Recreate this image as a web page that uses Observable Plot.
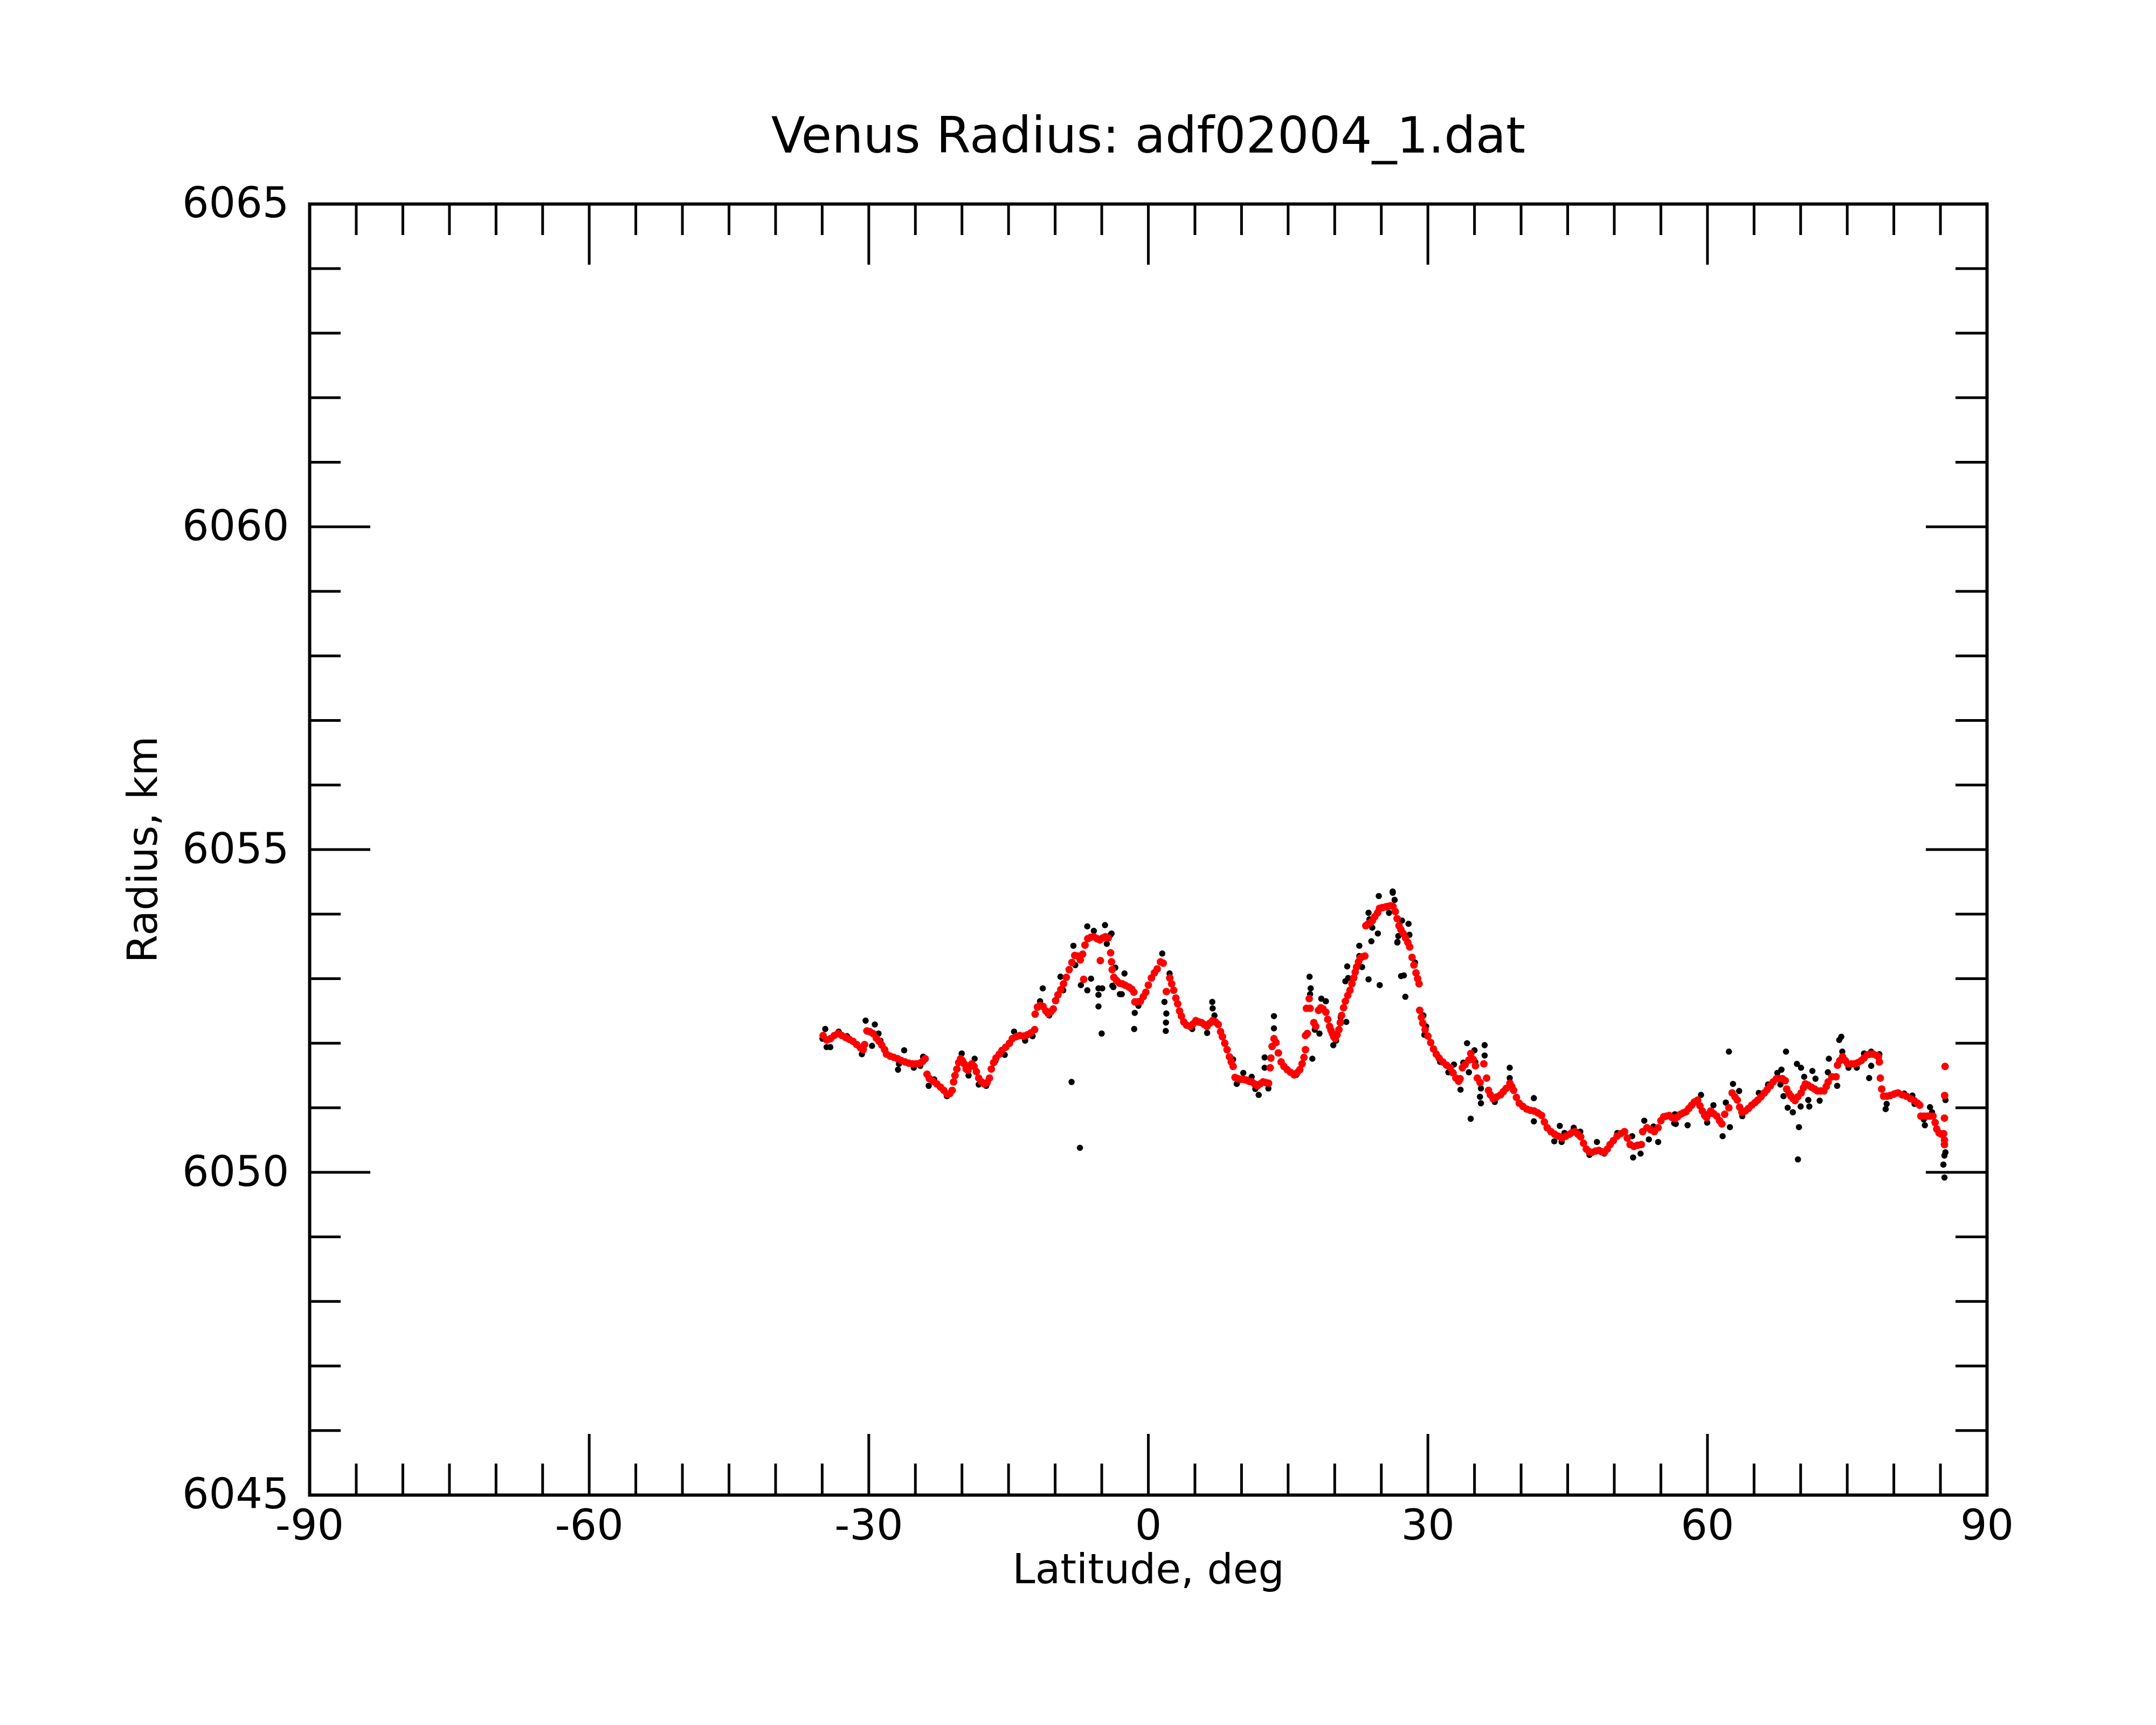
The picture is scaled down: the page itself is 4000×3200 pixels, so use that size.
<!DOCTYPE html>
<html>
<head>
<meta charset="utf-8">
<script src="https://cdn.jsdelivr.net/npm/d3@7"></script>
<script src="https://cdn.jsdelivr.net/npm/@observablehq/plot@0.6"></script>
<style>
  body { margin: 0; background: #ffffff; }
  #chart svg { display: block; }
</style>
</head>
<body>
<div id="chart"></div>
<script>
// ---------- text ----------
const titleText = "Venus Radius: adf02004_1.dat";
const xLabel = "Latitude, deg";
const yLabel = "Radius, km";

// ---------- axes ----------
const xDomain = [-90, 90];
const yDomain = [6045, 6065];
const xMajorTicks = [-90, -60, -30, 0, 30, 60, 90];
const xMinorTicks = [-85, -80, -75, -70, -65, -55, -50, -45, -40, -35, -25, -20, -15, -10, -5,
                     5, 10, 15, 20, 25, 35, 40, 45, 50, 55, 65, 70, 75, 80, 85];
const yMajorTicks = [6045, 6050, 6055, 6060, 6065];
const yMinorTicks = [6046, 6047, 6048, 6049, 6051, 6052, 6053, 6054, 6056, 6057, 6058, 6059,
                     6061, 6062, 6063, 6064];

// ---------- data: raw radius samples (black) [latitude, radius] ----------
const rawSamples = [
  [-34.97,6052.07],[-34.67,6052.22],[-34.52,6051.94],[-34.13,6051.94],[-33.23,6052.18],[-32.34,6052.11],
  [-30.74,6051.83],[-30.34,6052.35],[-29.35,6052.29],[-29.65,6051.96],[-28.95,6052.15],[-28.75,6052.04],
  [-26.86,6051.59],[-26.76,6051.68],[-26.20,6051.89],[-25.17,6051.62],[-24.47,6051.65],[-24.17,6051.79],
  [-23.57,6051.34],[-22.98,6051.44],[-21.62,6051.18],[-20.03,6051.84],[-19.29,6051.50],[-18.64,6051.76],
  [-18.20,6051.36],[-17.40,6051.34],[-16.40,6051.73],[-15.41,6051.82],[-14.41,6052.18],[-13.22,6052.04],
  [-12.42,6052.11],[-11.33,6052.85],[-11.62,6052.65],[-10.63,6052.43],[-9.43,6053.03],[-9.13,6052.82],
  [-8.24,6051.40],[-8.04,6053.51],[-7.84,6053.21],[-7.34,6050.38],[-7.24,6052.90],[-6.55,6052.82],
  [-6.55,6053.81],[-5.85,6053.74],[-5.35,6052.85],[-5.35,6052.75],[-5.35,6052.57],[-5.01,6052.15],
  [-4.95,6052.85],[-4.65,6053.83],[-4.06,6053.68],[-4.46,6053.54],[-3.86,6052.89],[-3.06,6052.76],
  [-6.15,6053.00],[-3.95,6053.70],[-3.55,6053.17],[-3.75,6052.87],[-2.56,6053.08],[-2.85,6052.76],
  [-1.46,6052.47],[-1.52,6052.22],[-1.06,6052.58],[1.49,6053.39],[1.73,6052.64],[1.93,6052.46],
  [1.89,6052.32],[1.87,6052.19],[2.28,6053.08],[4.71,6052.22],[6.31,6052.16],[6.86,6052.64],
  [6.90,6052.54],[7.10,6052.43],[9.09,6051.75],[9.49,6051.37],[10.19,6051.54],[11.09,6051.48],
  [11.48,6051.29],[11.84,6051.20],[12.48,6051.78],[12.48,6051.62],[12.88,6051.30],[13.48,6052.42],
  [13.48,6052.23],[15.87,6051.51],[17.30,6053.03],[17.42,6052.85],[17.36,6052.76],[17.60,6051.76],
  [17.86,6052.21],[18.36,6052.15],[18.56,6052.69],[19.05,6052.65],[19.85,6051.97],[20.15,6052.04],
  [20.65,6052.40],[21.24,6052.33],[21.14,6052.96],[21.34,6053.19],[21.44,6053.01],[22.64,6053.51],
  [22.64,6053.35],[22.94,6053.18],[23.63,6052.99],[24.83,6052.90],[23.63,6054.02],[23.73,6053.92],
  [24.03,6053.79],[24.63,6053.70],[23.93,6053.58],[24.73,6054.28],[26.22,6054.35],[25.83,6054.02],
  [26.72,6053.56],[27.12,6053.04],[26.23,6054.33],[26.43,6054.22],[27.22,6053.90],[27.92,6053.85],
  [26.73,6053.57],[26.83,6053.66],[28.02,6053.68],[27.42,6053.05],[27.58,6052.72],[28.62,6053.25],
  [29.52,6052.43],[29.81,6052.26],[29.62,6052.13],[31.31,6051.71],[32.80,6051.67],[32.20,6051.55],
  [33.50,6051.28],[34.20,6052.00],[35.00,6051.89],[33.80,6051.70],[34.59,6050.83],[34.40,6051.55],
  [35.09,6051.71],[36.09,6051.97],[36.09,6051.81],[35.69,6051.30],[35.69,6051.07],[35.59,6051.17],
  [37.18,6051.09],[38.78,6051.62],[38.78,6051.46],[41.37,6051.15],[41.37,6050.79],[41.96,6050.91],
  [43.56,6050.48],[44.15,6050.72],[44.35,6050.47],[44.65,6050.61],[45.65,6050.69],[46.35,6050.63],
  [47.34,6050.27],[48.14,6050.47],[48.93,6050.29],[50.33,6050.61],[51.92,6050.56],[52.02,6050.23],
  [52.82,6050.29],[53.22,6050.80],[53.71,6050.51],[54.21,6050.71],[54.71,6050.47],[56.50,6050.90],
  [56.60,6050.75],[56.43,6050.76],[57.87,6050.73],[59.31,6051.20],[59.97,6050.77],[60.64,6051.04],
  [61.63,6050.56],[62.30,6051.87],[61.97,6051.08],[62.41,6050.70],[62.74,6051.37],[63.40,6051.26],
  [63.74,6050.87],[65.51,6051.23],[66.50,6051.36],[67.50,6051.54],[67.83,6051.36],[67.94,6051.59],
  [68.43,6051.87],[69.60,6051.68],[70.04,6051.62],[68.16,6051.18],[68.61,6051.00],[69.16,6050.93],
  [69.82,6050.70],[69.71,6050.20],[70.00,6051.02],[70.38,6051.48],[70.82,6051.12],[70.93,6051.02],
  [71.26,6051.57],[71.59,6051.45],[72.04,6051.11],[72.92,6051.55],[73.03,6051.76],[73.92,6051.34],
  [74.14,6052.05],[74.36,6052.10],[74.47,6051.87],[75.14,6051.62],[76.02,6051.62],[76.80,6051.84],
  [77.57,6051.87],[78.45,6051.83],[77.35,6051.46],[77.57,6051.65],[79.12,6050.98],[79.23,6051.06],
  [80.23,6051.23],[81.11,6051.22],[81.99,6051.19],[82.22,6051.06],[83.88,6051.01],[83.33,6050.73],
  [83.21,6050.82],[84.10,6050.93],[85.54,6051.12],[85.54,6050.31],[85.43,6050.26],[85.32,6050.12],
  [85.43,6049.92]
];

// ---------- data: smoothed radius (red) [latitude, radius] ----------
const smoothSamples = [
  [-34.9,6052.12],[-34.5,6052.05],[-34.1,6052.07],[-33.7,6052.12],[-33.3,6052.15],[-32.9,6052.12],[-32.5,6052.09],
  [-32.1,6052.06],[-31.7,6052.03],[-31.3,6051.98],[-30.9,6051.93],[-30.6,6051.90],[-30.45,6051.98],[-30.2,6052.19],
  [-29.9,6052.18],[-29.55,6052.15],[-29.2,6052.08],[-28.9,6052.03],[-28.6,6051.97],[-28.3,6051.90],[-28.1,6051.83],
  [-27.7,6051.80],[-27.3,6051.78],[-26.9,6051.76],[-26.5,6051.73],[-26.1,6051.71],[-25.7,6051.69],[-25.3,6051.68],
  [-24.9,6051.68],[-24.5,6051.69],[-24.2,6051.72],[-23.95,6051.76],[-23.75,6051.52],[-23.5,6051.45],[-23.1,6051.41],
  [-22.7,6051.37],[-22.3,6051.32],[-21.95,6051.27],[-21.6,6051.21],[-21.3,6051.22],[-21.05,6051.27],[-20.9,6051.40],
  [-20.75,6051.50],[-20.55,6051.60],[-20.35,6051.70],[-20.15,6051.76],[-19.95,6051.73],[-19.75,6051.68],[-19.55,6051.60],
  [-19.35,6051.58],[-19.15,6051.65],[-18.95,6051.68],[-18.7,6051.64],[-18.45,6051.56],[-18.2,6051.46],[-17.9,6051.40],
  [-17.6,6051.37],[-17.3,6051.39],[-17.05,6051.46],[-16.85,6051.60],[-16.6,6051.70],[-16.35,6051.77],[-16.0,6051.83],
  [-15.7,6051.89],[-15.3,6051.94],[-14.9,6052.00],[-14.6,6052.07],[-14.2,6052.10],[-13.8,6052.12],[-13.4,6052.11],
  [-13.0,6052.13],[-12.6,6052.16],[-12.2,6052.21],[-12.15,6052.45],[-11.9,6052.56],[-11.6,6052.58],[-11.3,6052.57],
  [-11.0,6052.50],[-10.75,6052.46],[-10.45,6052.49],[-10.2,6052.53],[-9.95,6052.66],[-9.7,6052.75],[-9.4,6052.83],
  [-9.1,6052.92],[-8.8,6053.02],[-8.5,6053.14],[-8.2,6053.25],[-7.9,6053.36],[-7.6,6053.35],[-7.3,6053.29],
  [-7.05,6053.38],[-6.8,6053.52],[-6.5,6053.62],[-6.2,6053.64],[-5.85,6053.65],[-5.5,6053.62],[-5.2,6053.60],
  [-4.9,6053.63],[-4.6,6053.65],[-4.3,6053.63],[-4.05,6053.40],[-3.95,6053.26],[-3.88,6053.14],[-5.15,6053.28],
  [-6.94,6052.99],[-3.7,6053.02],[-3.4,6052.97],[-3.1,6052.93],[-2.8,6052.92],[-2.5,6052.90],[-2.1,6052.87],
  [-1.8,6052.84],[-1.55,6052.79],[-1.45,6052.64],[-1.15,6052.64],[-0.85,6052.65],[-0.55,6052.72],[-0.27,6052.79],
  [0.0,6052.90],[0.33,6053.01],[0.65,6053.09],[0.95,6053.15],[1.3,6053.26],[1.6,6053.24],[1.93,6052.80],
  [2.3,6053.01],[2.5,6052.92],[2.72,6052.82],[2.95,6052.70],[3.15,6052.61],[3.35,6052.50],[3.55,6052.42],
  [3.8,6052.33],[4.1,6052.28],[4.5,6052.26],[4.8,6052.30],[5.1,6052.35],[5.4,6052.33],[5.7,6052.32],
  [6.0,6052.29],[6.3,6052.26],[6.6,6052.31],[6.9,6052.35],[7.2,6052.33],[7.5,6052.29],[7.75,6052.18],
  [7.95,6052.10],[8.2,6052.00],[8.45,6051.90],[8.7,6051.79],[8.9,6051.71],[9.1,6051.64],[9.3,6051.47],
  [9.6,6051.45],[9.9,6051.44],[10.2,6051.44],[10.5,6051.43],[10.8,6051.41],[11.1,6051.40],[11.4,6051.37],
  [11.7,6051.34],[12.0,6051.37],[12.3,6051.40],[12.6,6051.39],[12.9,6051.38],[13.08,6051.62],[13.15,6051.77],
  [13.28,6051.95],[13.48,6052.07],[13.7,6052.01],[13.95,6051.85],[14.25,6051.71],[14.55,6051.64],[14.9,6051.59],
  [15.25,6051.55],[15.65,6051.51],[15.95,6051.54],[16.25,6051.59],[16.5,6051.68],[16.7,6051.78],[16.86,6051.90],
  [16.86,6052.12],[17.06,6052.15],[16.96,6052.54],[17.26,6052.69],[17.36,6052.54],[17.76,6052.32],[17.96,6052.26],
  [18.26,6052.51],[18.5,6052.55],[18.75,6052.53],[19.05,6052.48],[19.25,6052.37],[19.45,6052.26],[19.6,6052.20],
  [19.75,6052.15],[19.9,6052.10],[20.05,6052.07],[20.25,6052.13],[20.45,6052.21],[20.6,6052.32],[20.74,6052.43],
  [20.95,6052.55],[21.14,6052.65],[21.4,6052.74],[21.64,6052.82],[21.85,6052.92],[22.04,6053.01],[22.2,6053.10],
  [22.34,6053.18],[22.55,6053.26],[22.74,6053.32],[23.0,6053.34],[23.24,6053.35],[23.34,6053.82],[23.6,6053.85],
  [23.85,6053.87],[24.05,6053.90],[24.3,6053.96],[24.6,6054.02],[24.8,6054.09],[25.1,6054.10],[25.43,6054.11],
  [25.7,6054.12],[26.0,6054.13],[26.25,6054.12],[26.5,6054.04],[26.7,6053.93],[26.9,6053.82],[27.1,6053.76],
  [27.35,6053.70],[27.6,6053.63],[27.85,6053.56],[28.05,6053.49],[28.3,6053.33],[28.5,6053.21],[28.72,6053.09],
  [28.9,6053.00],[29.05,6052.92],[29.12,6052.51],[29.3,6052.40],[29.45,6052.31],[29.7,6052.21],[30.0,6052.11],
  [30.3,6052.01],[30.6,6051.91],[30.9,6051.83],[31.2,6051.77],[31.6,6051.71],[32.0,6051.66],[32.4,6051.62],
  [32.7,6051.54],[33.0,6051.46],[33.3,6051.41],[33.45,6051.45],[33.7,6051.62],[34.0,6051.67],[34.4,6051.74],
  [34.6,6051.84],[34.85,6051.75],[35.1,6051.65],[35.3,6051.46],[35.6,6051.39],[36.0,6051.68],[36.3,6051.46],
  [36.5,6051.27],[36.7,6051.20],[37.0,6051.14],[37.4,6051.17],[37.8,6051.20],[38.1,6051.25],[38.4,6051.30],
  [38.8,6051.38],[39.0,6051.33],[39.2,6051.27],[39.5,6051.16],[39.8,6051.07],[40.2,6051.02],[40.6,6050.98],
  [41.0,6050.96],[41.4,6050.95],[41.8,6050.92],[42.2,6050.88],[42.5,6050.78],[42.8,6050.69],[43.2,6050.63],
  [43.6,6050.59],[44.0,6050.56],[44.4,6050.53],[44.8,6050.56],[45.2,6050.59],[45.5,6050.62],[45.8,6050.63],
  [46.1,6050.59],[46.4,6050.55],[46.7,6050.45],[47.0,6050.36],[47.3,6050.32],[47.6,6050.31],[48.0,6050.33],
  [48.35,6050.34],[48.65,6050.32],[48.95,6050.31],[49.25,6050.36],[49.55,6050.43],[49.9,6050.49],[50.3,6050.56],
  [50.7,6050.60],[51.1,6050.63],[51.4,6050.53],[51.7,6050.43],[52.1,6050.40],[52.5,6050.42],[52.9,6050.43],
  [53.05,6050.63],[53.5,6050.69],[53.9,6050.66],[54.3,6050.63],[54.7,6050.69],[55.0,6050.80],[55.3,6050.86],
  [55.6,6050.87],[55.9,6050.88],[56.2,6050.85],[56.5,6050.83],[56.8,6050.86],[57.1,6050.90],[57.4,6050.92],
  [57.7,6050.94],[58.0,6050.99],[58.3,6051.04],[58.6,6051.09],[58.95,6051.12],[59.2,6051.03],[59.45,6050.95],
  [59.7,6050.88],[59.9,6050.85],[60.1,6050.90],[60.35,6050.95],[60.65,6050.91],[61.0,6050.87],[61.3,6050.80],
  [61.55,6050.75],[61.85,6050.90],[62.3,6051.00],[62.65,6051.23],[62.95,6051.17],[63.2,6051.12],[63.45,6051.01],
  [63.7,6050.93],[64.05,6050.95],[64.4,6050.99],[64.75,6051.04],[65.1,6051.08],[65.4,6051.12],[65.75,6051.17],
  [66.1,6051.23],[66.4,6051.28],[66.75,6051.34],[67.05,6051.40],[67.4,6051.45],[67.75,6051.45],[68.05,6051.45],
  [68.35,6051.42],[68.5,6051.29],[68.75,6051.22],[68.95,6051.18],[69.2,6051.14],[69.4,6051.11],[69.7,6051.17],
  [70.05,6051.23],[70.3,6051.31],[70.5,6051.37],[70.8,6051.35],[71.15,6051.32],[71.5,6051.29],[71.8,6051.26],
  [72.15,6051.26],[72.5,6051.26],[72.75,6051.33],[72.95,6051.40],[73.35,6051.48],[73.8,6051.48],[73.95,6051.66],
  [74.2,6051.73],[74.5,6051.79],[74.8,6051.73],[75.05,6051.68],[75.45,6051.68],[75.8,6051.68],[76.15,6051.70],
  [76.5,6051.73],[76.8,6051.77],[77.15,6051.82],[77.5,6051.83],[77.8,6051.83],[78.15,6051.81],[78.35,6051.79],
  [78.45,6051.71],[78.55,6051.46],[78.7,6051.29],[78.9,6051.18],[79.25,6051.18],[79.6,6051.19],[80.0,6051.21],
  [80.45,6051.23],[80.9,6051.20],[81.35,6051.18],[81.8,6051.14],[82.2,6051.11],[82.55,6051.07],[82.78,6051.04],
  [82.9,6050.87],[83.25,6050.87],[83.6,6050.87],[83.9,6050.87],[84.2,6050.87],[84.43,6050.77],[84.6,6050.67],
  [84.85,6050.61],[85.1,6050.59],[85.35,6050.60],[85.43,6050.50],[85.43,6050.43],[85.43,6050.84],[85.45,6051.19],
  [85.5,6051.64]
];

// ---------- layout ----------
const W = 4000, H = 3200;
const M = {left: 574, right: 314, top: 378, bottom: 427};
const frameW = W - M.left - M.right;
const frameH = H - M.top - M.bottom;
const FONT = "DejaVu Sans";
const majorLen = 113, minorLen = 58, tickW = 5;

const chart = Plot.plot({
  width: W,
  height: H,
  marginLeft: M.left,
  marginRight: M.right,
  marginTop: M.top,
  marginBottom: M.bottom,
  style: {background: "#ffffff", fontFamily: FONT, color: "#000"},
  x: {domain: xDomain, axis: null},
  y: {domain: yDomain, axis: null},
  marks: [
    // data
    Plot.dot(rawSamples, {x: d => d[0], y: d => d[1], r: 5.8, fill: "#000000", stroke: "none"}),
    Plot.dot(smoothSamples, {x: d => d[0], y: d => d[1], r: 7, fill: "#ff0000", stroke: "none"}),
    // x ticks bottom and top
    Plot.ruleX(xMajorTicks, {x: d => d, insetTop: frameH - majorLen, stroke: "#000", strokeWidth: tickW}),
    Plot.ruleX(xMinorTicks, {x: d => d, insetTop: frameH - minorLen, stroke: "#000", strokeWidth: tickW}),
    Plot.ruleX(xMajorTicks, {x: d => d, insetBottom: frameH - majorLen, stroke: "#000", strokeWidth: tickW}),
    Plot.ruleX(xMinorTicks, {x: d => d, insetBottom: frameH - minorLen, stroke: "#000", strokeWidth: tickW}),
    // y ticks left and right
    Plot.ruleY(yMajorTicks, {y: d => d, insetRight: frameW - majorLen, stroke: "#000", strokeWidth: tickW}),
    Plot.ruleY(yMinorTicks, {y: d => d, insetRight: frameW - minorLen, stroke: "#000", strokeWidth: tickW}),
    Plot.ruleY(yMajorTicks, {y: d => d, insetLeft: frameW - majorLen, stroke: "#000", strokeWidth: tickW}),
    Plot.ruleY(yMinorTicks, {y: d => d, insetLeft: frameW - minorLen, stroke: "#000", strokeWidth: tickW}),
    Plot.frame({stroke: "#000", strokeWidth: 6}),
    // tick labels
    Plot.text(xMajorTicks, {x: d => d, text: d => String(d), frameAnchor: "bottom", lineAnchor: "top",
      dy: 27, fontSize: 78, fill: "#000", fontFamily: FONT}),
    Plot.text(yMajorTicks, {y: d => d, text: d => String(d), frameAnchor: "left", textAnchor: "end",
      lineAnchor: "middle", dx: -38, fontSize: 78, fill: "#000", fontFamily: FONT}),
    // axis labels
    Plot.text([xLabel], {text: d => d, frameAnchor: "bottom", textAnchor: "middle", lineAnchor: "top", dy: 110,
      fontSize: 76, fill: "#000", fontFamily: FONT}),
    Plot.text([yLabel], {text: d => d, frameAnchor: "left", textAnchor: "middle", rotate: -90,
      lineAnchor: "middle", dx: -308, fontSize: 76, fill: "#000", fontFamily: FONT}),
    // title
    Plot.text([titleText], {text: d => d, frameAnchor: "top", textAnchor: "middle", lineAnchor: "bottom", dy: -96,
      fontSize: 92, fill: "#000", fontFamily: FONT})
  ]
});

document.getElementById("chart").appendChild(chart);
</script>
</body>
</html>
